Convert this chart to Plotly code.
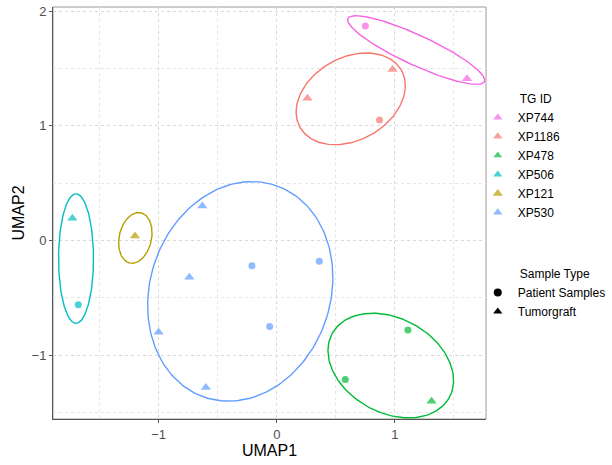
import numpy as np
import plotly.graph_objects as go

# ---- data ----
groups = ["XP744", "XP1186", "XP478", "XP506", "XP121", "XP530"]
group_colors = ["#F564E3", "#F8766D", "#00BA38", "#00BFC4", "#B79F00", "#619CFF"]

tg_id = ["XP744", "XP744",
         "XP1186", "XP1186", "XP1186",
         "XP478", "XP478", "XP478",
         "XP506", "XP506",
         "XP121",
         "XP530", "XP530", "XP530", "XP530", "XP530", "XP530", "XP530"]
sample_type = ["Tumorgraft", "Patient Samples",
               "Tumorgraft", "Tumorgraft", "Patient Samples",
               "Tumorgraft", "Patient Samples", "Patient Samples",
               "Tumorgraft", "Patient Samples",
               "Tumorgraft",
               "Tumorgraft", "Tumorgraft", "Tumorgraft", "Tumorgraft",
               "Patient Samples", "Patient Samples", "Patient Samples"]
umap1 = [1.61, 0.75,
         0.98, 0.26, 0.87,
         1.31, 1.11, 0.58,
         -1.73, -1.68,
         -1.20,
         -0.63, -0.74, -1.00, -0.60,
         -0.21, 0.36, -0.06]
umap2 = [1.41, 1.87,
         1.49, 1.24, 1.05,
         -1.40, -0.78, -1.21,
         0.195, -0.56,
         0.04,
         0.30, -0.32, -0.80, -1.28,
         -0.22, -0.18, -0.75]

# ellipse parameters per group (centre, semi-axes, rotation in degrees)
ell_cx = [1.18, 0.626, 0.965, -1.699, -1.197, -0.309]
ell_cy = [1.66, 1.235, -1.089, -0.157, 0.023, -0.443]
ell_a = [0.64, 0.496, 0.569, 0.564, 0.224, 0.971]
ell_b = [0.13, 0.357, 0.408, 0.148, 0.137, 0.766]
ell_angle = [-25.5, 31.5, -30.8, 90.0, 78.4, 73.8]

sample_types = ["Patient Samples", "Tumorgraft"]
sample_symbols = ["circle", "triangle-up"]

fig = go.Figure()

# ellipses
t = np.linspace(0, 2 * np.pi, 200)
for i, g in enumerate(groups):
    th = np.deg2rad(ell_angle[i])
    ex = ell_cx[i] + ell_a[i] * np.cos(t) * np.cos(th) - ell_b[i] * np.sin(t) * np.sin(th)
    ey = ell_cy[i] + ell_a[i] * np.cos(t) * np.sin(th) + ell_b[i] * np.sin(t) * np.cos(th)
    fig.add_trace(go.Scatter(x=ex, y=ey, mode="lines",
                             line=dict(color=group_colors[i], width=1.4),
                             showlegend=False, hoverinfo="skip"))

# points
sym_map = dict(zip(sample_types, sample_symbols))
for i, g in enumerate(groups):
    idx = [k for k, v in enumerate(tg_id) if v == g]
    fig.add_trace(go.Scatter(
        x=[umap1[k] for k in idx], y=[umap2[k] for k in idx],
        mode="markers", name=g, legend="legend",
        marker=dict(color=group_colors[i],
                    symbol=[sym_map[sample_type[k]] for k in idx],
                    size=[9 if sample_type[k] == "Tumorgraft" else 7 for k in idx],
                    line=dict(width=0)),
    ))

# sample type legend
for s, sym in zip(sample_types, sample_symbols):
    fig.add_trace(go.Scatter(x=[None], y=[None], mode="markers", name=s,
                             legend="legend2",
                             marker=dict(color="black", symbol=sym, size=8)))

font_family = "Liberation Sans, Arial, sans-serif"
grid_col = "#d9d9d9"
axis_common = dict(
    showline=True, linecolor="#555555", linewidth=1, mirror=False,
    ticks="outside", ticklen=3, tickcolor="#555555",
    tickfont=dict(size=13, color="#4d4d4d", family=font_family),
    showgrid=True, gridcolor=grid_col, griddash="dot", gridwidth=1,
    zeroline=False, dtick=1, tick0=0,
    minor=dict(dtick=0.5, showgrid=True, gridcolor="#e6e6e6", griddash="dot", gridwidth=1),
)

pad = "\u00a0" * 12
fig.update_layout(
    width=612, height=465,
    margin=dict(l=53, r=126, t=7, b=46, autoexpand=False),
    paper_bgcolor="white", plot_bgcolor="white",
    font=dict(family=font_family, size=12, color="black"),
    xaxis=dict(range=[-1.894, 1.771], title=dict(text="UMAP1", font=dict(size=16), standoff=1), **axis_common),
    yaxis=dict(range=[-1.555, 2.035], title=dict(text="UMAP2", font=dict(size=16), standoff=2), **axis_common),
    legend=dict(title=dict(text=pad + "TG ID", font=dict(size=12)), x=0.981, y=0.805,
                xanchor="left", yanchor="top", font=dict(size=12),
                bgcolor="rgba(0,0,0,0)", itemsizing="trace", traceorder="normal"),
    legend2=dict(title=dict(text=pad + "Sample Type", font=dict(size=12)), x=0.981, y=0.38,
                 xanchor="left", yanchor="top", font=dict(size=12),
                 bgcolor="rgba(0,0,0,0)", itemsizing="trace", traceorder="normal"),
    shapes=[dict(type="rect", xref="paper", yref="paper", x0=0, x1=1, y0=0, y1=1,
                 line=dict(color="#9a9a9a", width=1), layer="below")],
)

fig.write_html("out.html")
